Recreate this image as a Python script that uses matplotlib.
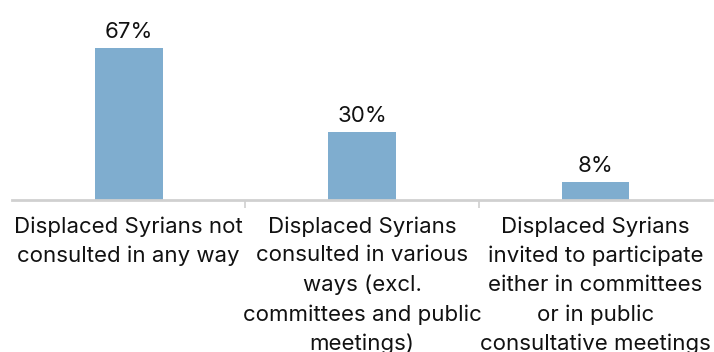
import matplotlib.pyplot as plt

categories = [
    "Displaced Syrians not\nconsulted in any way",
    "Displaced Syrians\nconsulted in various\nways (excl.\ncommittees and public\nmeetings)",
    "Displaced Syrians\ninvited to participate\neither in committees\nor in public\nconsultative meetings",
]
values = [67, 30, 8]

plt.rcParams['font.family'] = ['Inter', 'DejaVu Sans']

fig = plt.figure(figsize=(7.14, 3.52), dpi=100)
ax = fig.add_axes([12 / 714, 1 - 200 / 352, 700 / 714, 190 / 352])

x = [i + 0.5 for i in range(len(values))]
bars = ax.bar(x, values, width=0.29, color='#7fadcf')
for xi, v in zip(x, values):
    ax.annotate(f"{v}%", (xi, v), xytext=(0, 4), textcoords='offset points',
                ha='center', va='bottom', fontsize=16, color='#111111')

ax.set_xlim(0, len(values))
ax.set_ylim(0, 83.7)
ax.set_yticks([])
ax.set_xticks(range(1, len(values)))
ax.set_xticklabels([])
ax.tick_params(axis='x', length=6, width=1.2, color='#d0d0d0')
for sp in ['top', 'right', 'left']:
    ax.spines[sp].set_visible(False)
ax.spines['bottom'].set_color('#d0d0d0')
ax.spines['bottom'].set_linewidth(2)

for xi, lab in zip(x, categories):
    ax.text(xi, -0.085, lab, transform=ax.get_xaxis_transform(), ha='center', va='top',
            fontsize=16, linespacing=1.55, color='#111111')

fig.savefig('out.png', dpi=100)
